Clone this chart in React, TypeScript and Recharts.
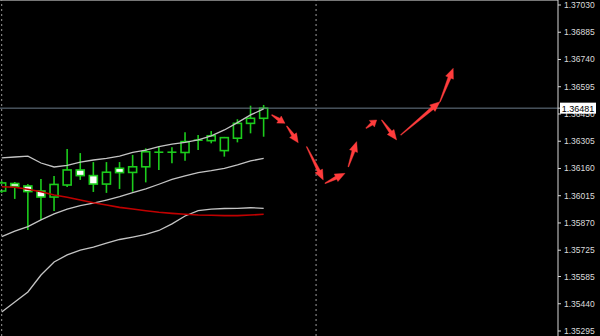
import React from 'react';
import { ComposedChart, Bar, Line, XAxis, YAxis, ReferenceLine } from 'recharts';

// ---- data ----
const barIndex = [0, 1, 2, 3, 4, 5, 6, 7, 8, 9, 10, 11, 12, 13, 14, 15, 16, 17, 18, 19, 20];
const openPrices = [1.3604, 1.3608, 1.36067, 1.3604, 1.36008, 1.36072, 1.36152, 1.36122, 1.36077, 1.36161, 1.36139, 1.36169, 1.36245, 1.36245, 1.36245, 1.36309, 1.36308, 1.36255, 1.36321, 1.364, 1.36427];
const highPrices = [1.36093, 1.36088, 1.36077, 1.36104, 1.3612, 1.36264, 1.36242, 1.36194, 1.36194, 1.36194, 1.36232, 1.36267, 1.36276, 1.36273, 1.36353, 1.36338, 1.36359, 1.36328, 1.36422, 1.36494, 1.36498];
const lowPrices = [1.3603, 1.35998, 1.35833, 1.35886, 1.35934, 1.36061, 1.36099, 1.36035, 1.3603, 1.36051, 1.36036, 1.36086, 1.36152, 1.36188, 1.36201, 1.36258, 1.36294, 1.36223, 1.36299, 1.36347, 1.36329];
const closePrices = [1.36083, 1.36064, 1.36037, 1.36008, 1.36075, 1.36152, 1.36122, 1.36077, 1.3614, 1.36138, 1.36169, 1.36249, 1.36248, 1.36248, 1.36303, 1.36312, 1.36334, 1.36324, 1.364, 1.36427, 1.36481];
const upperBand = [1.36216, 1.36221, 1.36226, 1.36189, 1.36168, 1.36176, 1.36194, 1.36205, 1.36214, 1.36226, 1.36246, 1.36258, 1.36276, 1.3629, 1.36299, 1.36312, 1.36333, 1.36365, 1.36404, 1.36445, 1.36477];
const middleBand = [1.35797, 1.35826, 1.35851, 1.35886, 1.35918, 1.35944, 1.35962, 1.35975, 1.35992, 1.3601, 1.36031, 1.36051, 1.36076, 1.36102, 1.3612, 1.36138, 1.36148, 1.36161, 1.36179, 1.362, 1.36214];
const lowerBand = [1.35396, 1.35449, 1.35503, 1.35593, 1.35662, 1.357, 1.35726, 1.35742, 1.35763, 1.35782, 1.35795, 1.35809, 1.3583, 1.35865, 1.35907, 1.35936, 1.35944, 1.35947, 1.35948, 1.35951, 1.35948];
const movingAverage = [1.36063, 1.3606, 1.36049, 1.36036, 1.36019, 1.36007, 1.35992, 1.35978, 1.35966, 1.35953, 1.35944, 1.35935, 1.35927, 1.35921, 1.35916, 1.35912, 1.35911, 1.35909, 1.35909, 1.35912, 1.35916];

const priceTicks = [1.3703, 1.36885, 1.3674, 1.36595, 1.3645, 1.36305, 1.3616, 1.36015, 1.3587, 1.35725, 1.35585, 1.3544, 1.35295];
const currentPrice = 1.36481;
const separatorBars = [0, 24];

const arrowFromBar = [20.61, 21.76, 23.28, 24.68, 26.46, 27.81, 29.01, 30.46, 33.46];
const arrowFromPrice = [1.36445, 1.36386, 1.36276, 1.36081, 1.36169, 1.36374, 1.36418, 1.36338, 1.36515];
const arrowToBar = [21.63, 22.64, 24.55, 26.21, 27.1, 28.63, 30.15, 33.46, 34.47];
const arrowToPrice = [1.364, 1.36297, 1.36099, 1.36134, 1.36303, 1.36418, 1.36312, 1.36515, 1.36693];

const priceDomain: [number, number] = [1.352684, 1.370566];
const barDomain: [number, number] = [-0.13, 42.47];

const candles = barIndex.map((i, k) => ({
  i,
  open: openPrices[k],
  high: highPrices[k],
  low: lowPrices[k],
  close: closePrices[k],
  upper: upperBand[k],
  middle: middleBand[k],
  lower: lowerBand[k],
  ma: movingAverage[k],
}));

const arrows = arrowFromBar.map((x1, k) => ({
  x1,
  y1: arrowFromPrice[k],
  x2: arrowToBar[k],
  y2: arrowToPrice[k],
}));

const allTicks = [...priceTicks, currentPrice];

// ---- styles ----
const GREEN = '#1ccc1c';
const BAND = '#c4c4c4';
const RED_MA = '#c00000';
const ARROW = '#ff3c3c';
const FONT = '"Liberation Sans", Arial, sans-serif';

const CandleShape = (props: any) => {
  const { x, y, width, height, payload } = props;
  if (!payload || x == null || y == null) return null;
  const { open, high, low, close } = payload;
  const yTop = Math.min(y, y + height);
  const yBot = Math.max(y, y + height);
  const span = high - low;
  const py = (p: number) => (span === 0 ? yTop : yTop + ((high - p) / span) * (yBot - yTop));
  const cx = x + width / 2;
  const bTop = py(Math.max(open, close));
  const bBot = py(Math.min(open, close));
  const bull = close >= open;
  return (
    <g>
      <line x1={cx} x2={cx} y1={yTop} y2={yBot} stroke={GREEN} strokeWidth={1.6} />
      {bBot - bTop < 1.5 ? (
        <line x1={x} x2={x + width} y1={(bTop + bBot) / 2} y2={(bTop + bBot) / 2} stroke={GREEN} strokeWidth={1.6} />
      ) : (
        <rect
          x={x + 0.5}
          y={bTop}
          width={width - 1}
          height={bBot - bTop}
          fill={bull ? '#000' : '#fff'}
          stroke={GREEN}
          strokeWidth={1.6}
        />
      )}
    </g>
  );
};

const ArrowShape = (props: any) => {
  const { x1, y1, x2, y2 } = props;
  if ([x1, y1, x2, y2].some((v) => v == null || isNaN(v))) return null;
  const dx = x2 - x1;
  const dy = y2 - y1;
  const len = Math.sqrt(dx * dx + dy * dy) || 1;
  const ux = dx / len;
  const uy = dy / len;
  const nx = -uy;
  const ny = ux;
  const head = Math.min(10, len * 0.45);
  const neckX = x2 - ux * head;
  const neckY = y2 - uy * head;
  const w0 = 0.4;
  const w1 = 1.6;
  const w2 = 4.2;
  const pts = [
    [x1 + nx * w0, y1 + ny * w0],
    [neckX + nx * w1, neckY + ny * w1],
    [neckX + nx * w2, neckY + ny * w2],
    [x2, y2],
    [neckX - nx * w2, neckY - ny * w2],
    [neckX - nx * w1, neckY - ny * w1],
    [x1 - nx * w0, y1 - ny * w0],
  ]
    .map((p) => `${p[0].toFixed(2)},${p[1].toFixed(2)}`)
    .join(' ');
  return <polygon points={pts} fill={ARROW} stroke={ARROW} strokeWidth={0.4} />;
};

const PriceTick = (props: any) => {
  const { x, y, payload } = props;
  const v = payload.value as number;
  if (v === currentPrice) {
    return (
      <g>
        <rect x={x - 4} y={y - 5.5} width={36} height={11} fill="#fff" />
        <text x={x + 14} y={y + 3.5} textAnchor="middle" fill="#000" fontSize={9} fontFamily={FONT}>
          {v.toFixed(5)}
        </text>
      </g>
    );
  }
  return (
    <text x={x} y={y + 3} textAnchor="start" fill="#dcdcdc" fontSize={8.5} fontFamily={FONT}>
      {v.toFixed(5)}
    </text>
  );
};

export default function App() {
  return (
    <div style={{ position: 'absolute', left: 0, top: 0, width: 600, height: 336, background: '#000' }}>
      <ComposedChart
        width={600}
        height={336}
        data={candles}
        margin={{ top: 0, right: 0, bottom: 0, left: 0 }}
        style={{ background: '#000', fontFamily: FONT }}
      >
        <XAxis dataKey="i" type="number" domain={barDomain} allowDataOverflow hide />
        <YAxis
          orientation="right"
          width={42}
          domain={priceDomain}
          allowDataOverflow
          ticks={allTicks}
          interval={0}
          tick={<PriceTick />}
          tickSize={3}
          tickMargin={3}
          stroke="#d8d8d8"
          tickLine={{ stroke: '#d8d8d8' }}
          axisLine={{ stroke: '#d8d8d8' }}
        />
        <ReferenceLine y={priceDomain[1]} stroke="#777" strokeWidth={2} ifOverflow="visible" />
        {separatorBars.map((b) => (
          <ReferenceLine key={'sep' + b} x={b} stroke="#9a9a9a" strokeDasharray="2 3" strokeWidth={1} />
        ))}
        <ReferenceLine y={currentPrice} stroke="#6c7b8b" strokeWidth={1} />
        <Line dataKey="upper" stroke={BAND} strokeWidth={1.3} dot={false} activeDot={false} isAnimationActive={false} />
        <Line dataKey="middle" stroke={BAND} strokeWidth={1.3} dot={false} activeDot={false} isAnimationActive={false} />
        <Line dataKey="lower" stroke={BAND} strokeWidth={1.3} dot={false} activeDot={false} isAnimationActive={false} />
        <Line dataKey="ma" stroke={RED_MA} strokeWidth={1.6} dot={false} activeDot={false} isAnimationActive={false} />
        <Bar
          dataKey={(d: any) => [d.low, d.high]}
          barSize={9}
          shape={<CandleShape />}
          activeBar={false}
          isAnimationActive={false}
        />
        {arrows.map((a, k) => (
          <ReferenceLine
            key={'arr' + k}
            segment={[
              { x: a.x1, y: a.y1 },
              { x: a.x2, y: a.y2 },
            ]}
            shape={ArrowShape}
            ifOverflow="visible"
          />
        ))}
      </ComposedChart>
    </div>
  );
}
